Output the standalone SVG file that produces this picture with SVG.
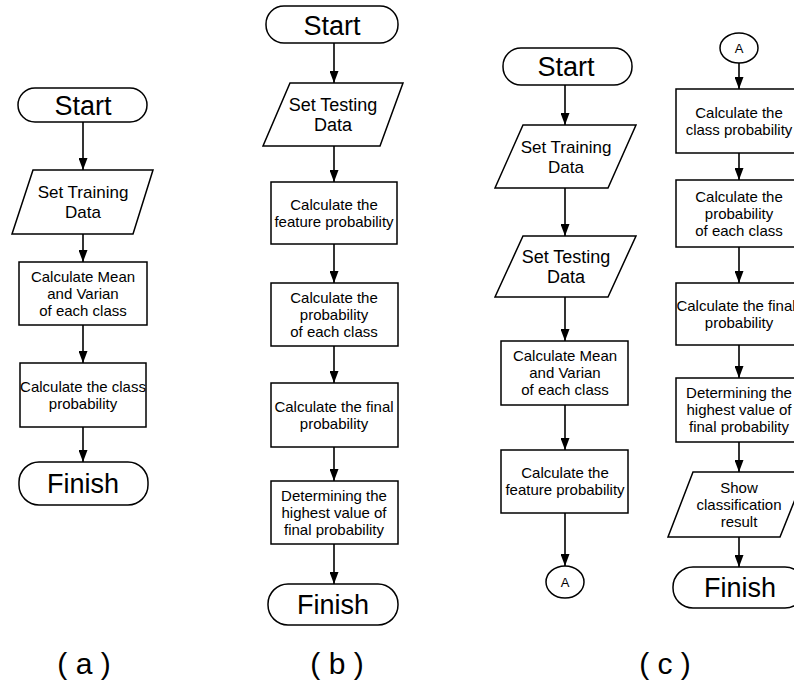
<svg xmlns="http://www.w3.org/2000/svg" width="794" height="683" viewBox="0 0 794 683">
<defs>
<style>
.s{fill:#fff;stroke:#000;stroke-width:1.5}
.t{font-family:"Liberation Sans",Arial,sans-serif;text-anchor:middle;fill:#000}
.f15{font-size:15px}
.f17{font-size:17px}
.f18{font-size:18px}
.f27{font-size:27px}
.f13{font-size:13px}
.lbl{font-size:30px}
.c{stroke:#000;stroke-width:1.6;fill:none;marker-end:url(#ah)}
</style>
<marker id="ah" viewBox="0 0 12 9" refX="12" refY="4.5" markerWidth="12" markerHeight="9" markerUnits="userSpaceOnUse" orient="auto">
<path d="M0,0 L12,4.5 L0,9 z" fill="#000"/>
</marker>
</defs>
<rect width="794" height="683" fill="#fff"/>

<g id="connectors">
<line class="c" x1="83" y1="122" x2="83" y2="170"/>
<line class="c" x1="83" y1="234" x2="83" y2="262"/>
<line class="c" x1="83" y1="325" x2="83" y2="363"/>
<line class="c" x1="83" y1="427" x2="83" y2="462"/>

<line class="c" x1="334" y1="43" x2="334" y2="83"/>
<line class="c" x1="334" y1="146" x2="334" y2="182"/>
<line class="c" x1="334" y1="244" x2="334" y2="283"/>
<line class="c" x1="334" y1="346" x2="334" y2="383"/>
<line class="c" x1="334" y1="447" x2="334" y2="481"/>
<line class="c" x1="334" y1="544" x2="334" y2="584"/>

<line class="c" x1="565" y1="85" x2="565" y2="125"/>
<line class="c" x1="565" y1="188" x2="565" y2="236"/>
<line class="c" x1="565" y1="297" x2="565" y2="341"/>
<line class="c" x1="565" y1="405" x2="565" y2="450"/>
<line class="c" x1="565" y1="513" x2="565" y2="566"/>

<line class="c" x1="739" y1="63" x2="739" y2="89"/>
<line class="c" x1="739" y1="153" x2="739" y2="180"/>
<line class="c" x1="739" y1="247" x2="739" y2="283"/>
<line class="c" x1="739" y1="345" x2="739" y2="378"/>
<line class="c" x1="739" y1="442" x2="739" y2="472"/>
<line class="c" x1="739" y1="537" x2="739" y2="567"/>
</g>

<!-- (a) -->
<g id="a-start"><rect class="s" x="18" y="88" width="129" height="34" rx="17"/><text class="t f27" x="83" y="114.5">Start</text></g>
<g id="a-train"><polygon class="s" points="33,170 153,170 133,234 12,234"/><text class="t f17" x="83" y="198">Set Training</text><text class="t f17" x="83" y="218">Data</text></g>
<g id="a-mean"><rect class="s" x="19" y="262" width="128" height="63"/><text class="t f15" x="83" y="282">Calculate Mean</text><text class="t f15" x="83" y="299">and Varian</text><text class="t f15" x="83" y="316">of each class</text></g>
<g id="a-class"><rect class="s" x="20" y="363" width="126" height="64"/><text class="t f15" x="83" y="392">Calculate the class</text><text class="t f15" x="83" y="409">probability</text></g>
<g id="a-finish"><rect class="s" x="19" y="462" width="129" height="43" rx="20"/><text class="t f27" x="83" y="493">Finish</text></g>

<!-- (b) -->
<g id="b-start"><rect class="s" x="266" y="6" width="132" height="37" rx="18"/><text class="t f27" x="332" y="34.5">Start</text></g>
<g id="b-test"><polygon class="s" points="290,83 403,83 380,146 263,146"/><text class="t f18" x="333" y="111">Set Testing</text><text class="t f18" x="333" y="131">Data</text></g>
<g id="b-feat"><rect class="s" x="271" y="182" width="126" height="62"/><text class="t f15" x="334" y="210">Calculate the</text><text class="t f15" x="334" y="227">feature probability</text></g>
<g id="b-each"><rect class="s" x="271" y="283" width="127" height="63"/><text class="t f15" x="334" y="303">Calculate the</text><text class="t f15" x="334" y="320">probability</text><text class="t f15" x="334" y="337">of each class</text></g>
<g id="b-final"><rect class="s" x="271" y="383" width="127" height="64"/><text class="t f15" x="334" y="412">Calculate the final</text><text class="t f15" x="334" y="429">probability</text></g>
<g id="b-det"><rect class="s" x="271" y="481" width="127" height="63"/><text class="t f15" x="334" y="501">Determining the</text><text class="t f15" x="334" y="518">highest value of</text><text class="t f15" x="334" y="535">final probability</text></g>
<g id="b-finish"><rect class="s" x="268" y="584" width="130" height="41" rx="20"/><text class="t f27" x="333" y="614">Finish</text></g>

<!-- (c) left -->
<g id="c-start"><rect class="s" x="503" y="48" width="129" height="37" rx="18"/><text class="t f27" x="566" y="76">Start</text></g>
<g id="c-train"><polygon class="s" points="523,125 636,125 608,188 495,188"/><text class="t f17" x="566" y="153">Set Training</text><text class="t f17" x="566" y="173">Data</text></g>
<g id="c-test"><polygon class="s" points="523,236 636,236 608,297 495,297"/><text class="t f18" x="566" y="263">Set Testing</text><text class="t f18" x="566" y="283">Data</text></g>
<g id="c-mean"><rect class="s" x="501" y="341" width="127" height="64"/><text class="t f15" x="565" y="361">Calculate Mean</text><text class="t f15" x="565" y="378">and Varian</text><text class="t f15" x="565" y="395">of each class</text></g>
<g id="c-feat"><rect class="s" x="501" y="450" width="127" height="63"/><text class="t f15" x="565" y="478">Calculate the</text><text class="t f15" x="565" y="495">feature probability</text></g>
<g id="c-A1"><ellipse class="s" cx="565" cy="582" rx="19" ry="16"/><text class="t f13" x="565" y="587">A</text></g>

<!-- (c) right -->
<g id="c-A2"><ellipse class="s" cx="739" cy="48" rx="19" ry="15"/><text class="t f13" x="739" y="53">A</text></g>
<g id="c-class"><rect class="s" x="676" y="89" width="127" height="64"/><text class="t f15" x="739" y="118">Calculate the</text><text class="t f15" x="739" y="135">class probability</text></g>
<g id="c-each"><rect class="s" x="676" y="180" width="127" height="67"/><text class="t f15" x="739" y="202">Calculate the</text><text class="t f15" x="739" y="219">probability</text><text class="t f15" x="739" y="236">of each class</text></g>
<g id="c-final"><rect class="s" x="676" y="283" width="127" height="62"/><text class="t f15" x="736" y="311">Calculate the final</text><text class="t f15" x="739" y="328">probability</text></g>
<g id="c-det"><rect class="s" x="676" y="378" width="127" height="64"/><text class="t f15" x="739" y="398">Determining the</text><text class="t f15" x="739" y="415">highest value of</text><text class="t f15" x="739" y="432">final probability</text></g>
<g id="c-show"><polygon class="s" points="693,472 806,472 780,537 668,537"/><text class="t f15" x="739" y="493">Show</text><text class="t f15" x="739" y="510">classification</text><text class="t f15" x="739" y="527">result</text></g>
<g id="c-finish"><rect class="s" x="673" y="567" width="132" height="41" rx="20"/><text class="t f27" x="740" y="597">Finish</text></g>

<g id="labels">
<text class="t lbl" x="84" y="674">( a )</text>
<text class="t lbl" x="337" y="674">( b )</text>
<text class="t lbl" x="665" y="674">( c )</text>
</g>
</svg>
